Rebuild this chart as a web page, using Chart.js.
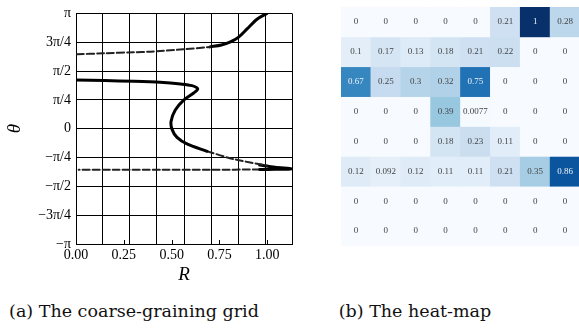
<!DOCTYPE html>
<html>
<head>
<meta charset="utf-8">
<script src="https://cdn.jsdelivr.net/npm/chart.js@4"></script>
<style>
  body { margin: 0; width: 579px; height: 334px; overflow: hidden; background: #fff; position: relative; }
  canvas { position: absolute; }
  #grid-chart { left: 0; top: 0; }
  #heat-chart { left: 341px; top: 0; }
  .cap { position: absolute; top: 302px; font-family: 'DejaVu Serif', serif; font-size: 17.5px; line-height: 18px; white-space: nowrap; text-align: center; color: #111; }
</style>
</head>
<body>
<canvas id="grid-chart" width="300" height="290"></canvas>
<canvas id="heat-chart" width="239" height="246"></canvas>
<div class="cap" style="left:0;width:268px">(a) The coarse-graining grid</div>
<div class="cap" style="left:300px;width:230px">(b) The heat-map</div>
<script>
// (a) curves: R on x, theta (rad) on y
var upperSparseR = [0.005, 0.15, 0.30, 0.39, 0.56, 0.70];
var upperSparseTheta = [2.030, 2.055, 2.083, 2.099, 2.162, 2.229];
var upperDenseR = [0.70, 0.76, 0.807, 0.850, 0.894, 0.946, 0.998];
var upperDenseTheta = [2.229, 2.28, 2.364, 2.496, 2.718, 2.983, 3.142];

var middleDenseR = [0.0, 0.15, 0.30, 0.44, 0.547, 0.606, 0.636, 0.615, 0.563, 0.519, 0.497, 0.502, 0.528, 0.580, 0.685];
var middleDenseTheta = [1.327, 1.312, 1.292, 1.263, 1.218, 1.173, 1.085, 0.972, 0.776, 0.511, 0.204, -0.018, -0.238, -0.415, -0.616];
var middleSparseR = [0.685, 0.824, 0.998];
var middleSparseTheta = [-0.616, -0.828, -1.005];
var tipR = [0.96, 1.04, 1.129, 1.04, 0.96];
var tipTheta = [-0.99, -1.05, -1.097, -1.108, -1.113];
var lowerR = [0.96, 0.70, 0.45, 0.20, 0.014];
var lowerTheta = [-1.113, -1.117, -1.118, -1.118, -1.118];

var rMax = 1.129;
var rTicks = [0, 0.25, 0.5, 0.75, 1.0];
var rGrid = [0, 0.141, 0.282, 0.423, 0.565, 0.706, 0.847, 0.988, 1.129];
var thetaTicks = [-Math.PI, -3 * Math.PI / 4, -Math.PI / 2, -Math.PI / 4, 0, Math.PI / 4, Math.PI / 2, 3 * Math.PI / 4, Math.PI];
var thetaLabels = ['\u2212\u03c0', '\u22123\u03c0/4', '\u2212\u03c0/2', '\u2212\u03c0/4', '0', '\u03c0/4', '\u03c0/2', '3\u03c0/4', '\u03c0'];

// (b) heat-map rows, top to bottom
var heatRows = [
    [0, 0, 0, 0, 0, 0.21, 1, 0.28],
    [0.1, 0.17, 0.13, 0.18, 0.21, 0.22, 0, 0],
    [0.67, 0.25, 0.3, 0.32, 0.75, 0, 0, 0],
    [0, 0, 0, 0.39, 0.0077, 0, 0, 0],
    [0, 0, 0, 0.18, 0.23, 0.11, 0, 0],
    [0.12, 0.092, 0.12, 0.11, 0.11, 0.21, 0.35, 0.86],
    [0, 0, 0, 0, 0, 0, 0, 0],
    [0, 0, 0, 0, 0, 0, 0, 0]
];
var heatCols = ['1', '2', '3', '4', '5', '6', '7', '8'];

var serif = "'Liberation Serif', serif";

function pts(rs, ts) {
    return rs.map(function (r, i) { return { x: r, y: ts[i] }; });
}

function curve(rs, ts, dashed, width) {
    return {
        data: pts(rs, ts),
        showLine: true,
        pointRadius: 0,
        tension: 0.3,
        borderColor: dashed ? '#222' : '#000',
        borderWidth: width,
        borderDash: dashed ? [7, 3] : [],
        borderCapStyle: 'round'
    };
}

var innerTicks = {
    id: 'innerTicks',
    afterDraw: function (chart) {
        var xs = chart.scales.x, area = chart.chartArea, ctx = chart.ctx;
        ctx.save();
        ctx.strokeStyle = '#000';
        ctx.lineWidth = 1;
        xs.ticks.forEach(function (t) {
            var px = Math.round(xs.getPixelForValue(t.value)) + 0.5;
            ctx.beginPath();
            ctx.moveTo(px, area.bottom);
            ctx.lineTo(px, area.bottom - 4);
            ctx.stroke();
        });
        ctx.restore();
    }
};

var gridChart = new Chart(document.getElementById('grid-chart').getContext('2d'), {
    type: 'scatter',
    data: {
        datasets: [
            curve(upperSparseR, upperSparseTheta, true, 2),
            curve(upperDenseR, upperDenseTheta, false, 3),
            curve(middleDenseR, middleDenseTheta, false, 3),
            curve(middleSparseR, middleSparseTheta, true, 2),
            curve(tipR, tipTheta, false, 3),
            curve(lowerR, lowerTheta, true, 2)
        ]
    },
    options: {
        responsive: false,
        animation: false,
        layout: { padding: { top: 7, right: 8, left: 0, bottom: 0 } },
        plugins: { legend: { display: false }, tooltip: { enabled: false } },
        scales: {
            x: {
                type: 'linear', min: 0, max: rMax,
                afterBuildTicks: function (s) { s.ticks = rTicks.map(function (v) { return { value: v }; }); },
                afterFit: function (s) { s.height = 46; },
                grid: { display: false, drawTicks: false },
                border: { display: true, color: '#000', width: 1 },
                ticks: { color: '#000', padding: 3, maxRotation: 0, font: { family: serif, size: 14 },
                    callback: function (v) { return v.toFixed(2); } },
                title: { display: true, text: 'R', color: '#000', font: { family: serif, size: 19, style: 'italic' } }
            },
            xg: {
                type: 'linear', position: 'bottom', min: 0, max: rMax,
                afterBuildTicks: function (s) { s.ticks = rGrid.map(function (v) { return { value: v }; }); },
                afterFit: function (s) { s.height = 0; },
                grid: { color: '#000', lineWidth: 1, drawTicks: false },
                border: { display: false },
                ticks: { display: false }
            },
            y: {
                type: 'linear', min: -Math.PI, max: Math.PI,
                afterBuildTicks: function (s) { s.ticks = thetaTicks.map(function (v) { return { value: v }; }); },
                afterFit: function (s) { s.width = 76; },
                grid: { color: '#000', lineWidth: 1, drawTicks: false },
                border: { display: true, color: '#000', width: 1 },
                ticks: { color: '#000', padding: 5, font: { family: serif, size: 14 },
                    callback: function (v, i) { return thetaLabels[i]; } },
                title: { display: true, text: '\u03b8', color: '#000', font: { family: serif, size: 19, style: 'italic' } }
            }
        }
    },
    plugins: [innerTicks]
});

// matplotlib "Blues"
var bluesStops = ['#f7fbff', '#deebf7', '#c6dbef', '#9ecae1', '#6baed6', '#4292c6', '#2171b5', '#08519c', '#08306b'];

function hexRgb(h) {
    return [parseInt(h.substr(1, 2), 16), parseInt(h.substr(3, 2), 16), parseInt(h.substr(5, 2), 16)];
}

function blues(v) {
    var p = Math.max(0, Math.min(1, v)) * (bluesStops.length - 1);
    var i = Math.min(Math.floor(p), bluesStops.length - 2), f = p - i;
    var a = hexRgb(bluesStops[i]), b = hexRgb(bluesStops[i + 1]);
    return a.map(function (c, k) { return Math.round(c + (b[k] - c) * f); });
}

function luminance(rgb) {
    var c = rgb.map(function (x) { x /= 255; return x <= 0.03928 ? x / 12.92 : Math.pow((x + 0.055) / 1.055, 2.4); });
    return 0.2126 * c[0] + 0.7152 * c[1] + 0.0722 * c[2];
}

var cellLabels = {
    id: 'cellLabels',
    afterDatasetsDraw: function (chart) {
        var ctx = chart.ctx;
        ctx.save();
        ctx.font = '9px ' + serif;
        ctx.textAlign = 'center';
        ctx.textBaseline = 'middle';
        chart.data.datasets.forEach(function (ds, r) {
            chart.getDatasetMeta(r).data.forEach(function (bar, c) {
                var v = ds.values[c];
                ctx.fillStyle = luminance(blues(v)) > 0.408 ? '#444' : '#f0f4fa';
                ctx.fillText(String(Number(v.toPrecision(2))), bar.x, (bar.y + bar.base) / 2);
            });
        });
        ctx.restore();
    }
};

var heatChart = new Chart(document.getElementById('heat-chart').getContext('2d'), {
    type: 'bar',
    data: {
        labels: heatCols,
        datasets: heatRows.map(function (row, r) {
            return {
                data: row.map(function () { return [r, r + 1]; }),
                values: row,
                backgroundColor: row.map(function (v) { return 'rgb(' + blues(v).join(',') + ')'; }),
                borderWidth: 0,
                barPercentage: 1,
                categoryPercentage: 1,
                grouped: false
            };
        })
    },
    options: {
        responsive: false,
        animation: false,
        layout: { padding: { top: 7, right: 0, left: 0, bottom: 0 } },
        plugins: { legend: { display: false }, tooltip: { enabled: false } },
        scales: {
            x: { display: false },
            y: { display: false, min: 0, max: 8, reverse: true }
        }
    },
    plugins: [cellLabels]
});
</script>
</body>
</html>
